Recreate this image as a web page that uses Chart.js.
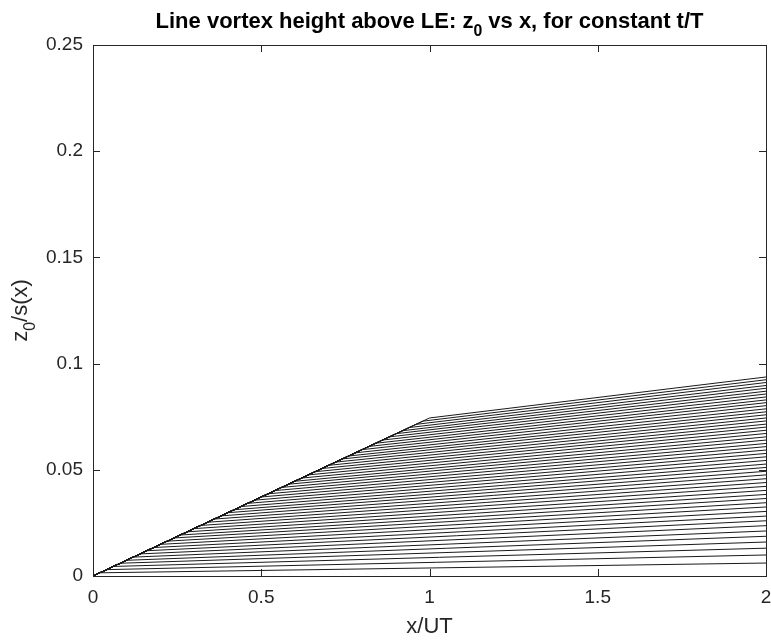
<!DOCTYPE html>
<html lang="en">
<head>
  <meta charset="UTF-8">
  <title>Line vortex height above LE</title>
  <style>
    html, body { margin: 0; padding: 0; background: #fff; }
    .chartBox { position: relative; width: 771px; height: 641px; }
  </style>
</head>
<body>
  <div class="chartBox">
    <canvas id="myChart" width="771" height="641"></canvas>
  </div>

<script src="https://cdn.jsdelivr.net/npm/chart.js/dist/chart.umd.min.js"></script>
<script>
  // t/T for each curve (the x where the curve leaves the leading envelope)
  const tOverT = [0.02, 0.04, 0.06, 0.08, 0.10, 0.12, 0.14, 0.16, 0.18, 0.20,
                  0.22, 0.24, 0.26, 0.28, 0.30, 0.32, 0.34, 0.36, 0.38, 0.40,
                  0.42, 0.44, 0.46, 0.48, 0.50, 0.52, 0.54, 0.56, 0.58, 0.60,
                  0.62, 0.64, 0.66, 0.68, 0.70, 0.72, 0.74, 0.76, 0.78, 0.80,
                  0.82, 0.84, 0.86, 0.88, 0.90, 0.92, 0.94, 0.96, 0.98, 1.00];
  // z0/s at the kink point x = t/T
  const zKink = [0.0015, 0.0030, 0.0045, 0.0060, 0.0074, 0.0089, 0.0104, 0.0119, 0.0134, 0.0149,
                 0.0164, 0.0179, 0.0193, 0.0208, 0.0223, 0.0238, 0.0253, 0.0268, 0.0283, 0.0298,
                 0.0312, 0.0327, 0.0342, 0.0357, 0.0372, 0.0387, 0.0402, 0.0417, 0.0432, 0.0446,
                 0.0461, 0.0476, 0.0491, 0.0506, 0.0521, 0.0536, 0.0551, 0.0565, 0.0580, 0.0595,
                 0.0610, 0.0625, 0.0640, 0.0655, 0.0670, 0.0684, 0.0699, 0.0714, 0.0729, 0.0744];
  // z0/s at x/UT = 2
  const zEnd = [0.0061, 0.0099, 0.0131, 0.0160, 0.0187, 0.0212, 0.0237, 0.0260, 0.0282, 0.0304,
                0.0325, 0.0345, 0.0365, 0.0384, 0.0403, 0.0422, 0.0440, 0.0458, 0.0476, 0.0493,
                0.0511, 0.0527, 0.0544, 0.0561, 0.0577, 0.0593, 0.0609, 0.0624, 0.0640, 0.0655,
                0.0671, 0.0686, 0.0701, 0.0715, 0.0730, 0.0744, 0.0759, 0.0773, 0.0787, 0.0802,
                0.0816, 0.0829, 0.0843, 0.0857, 0.0870, 0.0884, 0.0897, 0.0911, 0.0924, 0.0937];
  const xStart = 0, zStart = 0, xEnd = 2;

  const xTicks = [0, 0.5, 1, 1.5, 2];
  const yTicks = [0, 0.05, 0.1, 0.15, 0.2, 0.25];

  const datasets = tOverT.map((t, i) => ({
    data: [{ x: xStart, y: zStart }, { x: t, y: zKink[i] }, { x: xEnd, y: zEnd[i] }],
    borderColor: '#1a1a1a',
    borderWidth: 1,
    pointRadius: 0,
    showLine: true,
    tension: 0
  }));

  const axisColor = '#262626';
  const fontFam = '"Liberation Sans", Arial, sans-serif';

  // draw text with a subscript part, parts = [[text, isSub], ...]
  function drawParts(ctx, parts, x, y, size, weight, align) {
    const widths = parts.map(([txt, sub]) => {
      ctx.font = `${weight} ${sub ? size * 0.72 : size}px ${fontFam}`;
      return ctx.measureText(txt).width;
    });
    const total = widths.reduce((a, b) => a + b, 0);
    let cx = align === 'center' ? x - total / 2 : x;
    ctx.textAlign = 'left';
    ctx.textBaseline = 'alphabetic';
    parts.forEach(([txt, sub], i) => {
      ctx.font = `${weight} ${sub ? size * 0.72 : size}px ${fontFam}`;
      ctx.fillText(txt, cx, sub ? y + size * 0.38 : y);
      cx += widths[i];
    });
  }

  const matlabBox = {
    id: 'matlabBox',
    afterDraw(chart) {
      const { ctx, chartArea: a, scales } = chart;
      ctx.save();
      ctx.strokeStyle = axisColor;
      ctx.lineWidth = 1;
      ctx.strokeRect(Math.round(a.left) + 0.5, Math.round(a.top) + 0.5,
                     Math.round(a.right - a.left), Math.round(a.bottom - a.top));
      const tl = 7;
      ctx.beginPath();
      xTicks.forEach(v => {
        const px = Math.round(scales.x.getPixelForValue(v)) + 0.5;
        ctx.moveTo(px, a.bottom); ctx.lineTo(px, a.bottom - tl);
        ctx.moveTo(px, a.top); ctx.lineTo(px, a.top + tl);
      });
      yTicks.forEach(v => {
        const py = Math.round(scales.y.getPixelForValue(v)) + 0.5;
        ctx.moveTo(a.left, py); ctx.lineTo(a.left + tl, py);
        ctx.moveTo(a.right, py); ctx.lineTo(a.right - tl, py);
      });
      ctx.stroke();

      ctx.fillStyle = '#000';
      const cx = (a.left + a.right) / 2;
      drawParts(ctx, [['Line vortex height above LE: z', false], ['0', true],
                      [' vs x, for constant t/T', false]], cx, 28, 22, 'bold', 'center');

      ctx.fillStyle = axisColor;
      drawParts(ctx, [['x/UT', false]], cx, 633, 22, 'normal', 'center');

      ctx.translate(27, (a.top + a.bottom) / 2);
      ctx.rotate(-Math.PI / 2);
      drawParts(ctx, [['z', false], ['0', true], ['/s(x)', false]], 0, 0, 22, 'normal', 'center');
      ctx.restore();
    }
  };

  const config = {
    type: 'scatter',
    data: { datasets },
    options: {
      responsive: false,
      animation: false,
      layout: { padding: { top: 45, right: 5, left: 0, bottom: 0 } },
      scales: {
        x: {
          type: 'linear',
          min: 0,
          max: 2,
          grid: { display: false, drawTicks: false },
          border: { display: false },
          afterFit: s => { s.height = 65; s.paddingLeft = 0; s.paddingRight = 0; },
          afterBuildTicks: s => { s.ticks = xTicks.map(v => ({ value: v })); },
          ticks: {
            color: axisColor,
            padding: 10,
            maxRotation: 0,
            font: { family: fontFam, size: 19 },
            callback: v => String(+v.toFixed(3))
          }
        },
        y: {
          type: 'linear',
          min: 0,
          max: 0.25,
          grid: { display: false, drawTicks: false },
          border: { display: false },
          afterFit: s => { s.width = 93; s.paddingTop = 0; s.paddingBottom = 0; },
          afterBuildTicks: s => { s.ticks = yTicks.map(v => ({ value: v })); },
          ticks: {
            color: axisColor,
            padding: 10,
            font: { family: fontFam, size: 19 },
            callback: v => String(+v.toFixed(3))
          }
        }
      },
      plugins: {
        legend: { display: false },
        tooltip: { enabled: false }
      }
    },
    plugins: [matlabBox]
  };

  const myChart = new Chart(document.getElementById('myChart'), config);
</script>
</body>
</html>
